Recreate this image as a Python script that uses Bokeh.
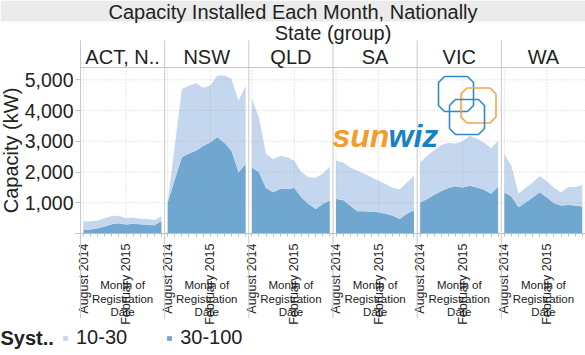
import math
from bokeh.plotting import figure
from bokeh.models import (ColumnDataSource, FixedTicker, Label, BoxAnnotation, Arrow,
                          NumeralTickFormatter, PolyAnnotation, Legend, LegendItem, Range1d)
from bokeh.embed import file_html
from bokeh.resources import INLINE

# ---------------- data ----------------
months = ["August 2014", "September 2014", "October 2014", "November 2014",
          "December 2014", "January 2015", "February 2015", "March 2015",
          "April 2015", "May 2015", "June 2015", "July 2015"]
states = ["ACT, N..", "NSW", "QLD", "SA", "VIC", "WA"]
series_labels = ["10-30", "30-100"]
tick_months = ["August 2014", "February 2015"]
y_ticks = [0, 1000, 2000, 3000, 4000, 5000]

act_30_100 = [120, 130, 170, 230, 300, 330, 290, 320, 300, 280, 270, 410]
act_10_30 = [270, 270, 250, 270, 270, 250, 210, 200, 180, 190, 170, 150]
nsw_30_100 = [1010, 1750, 2480, 2600, 2690, 2850, 2960, 3130, 2950, 2690, 1990, 2260]
nsw_10_30 = [30, 1100, 2220, 2210, 2200, 1890, 1850, 2010, 2190, 2340, 2330, 2550]
qld_30_100 = [2150, 1990, 1480, 1340, 1450, 1450, 1480, 1170, 960, 800, 960, 1070]
qld_10_30 = [2230, 1790, 1110, 1080, 1080, 1030, 890, 830, 870, 1010, 980, 1110]
sa_30_100 = [1120, 1090, 900, 720, 720, 710, 690, 640, 580, 470, 640, 750]
sa_10_30 = [1250, 1220, 1250, 1320, 1220, 1120, 1030, 970, 900, 970, 1020, 1120]
vic_30_100 = [1010, 1120, 1260, 1380, 1480, 1540, 1500, 1550, 1500, 1420, 1290, 1520]
vic_10_30 = [1300, 1410, 1460, 1500, 1470, 1390, 1500, 1630, 1590, 1540, 1490, 1500]
wa_30_100 = [1340, 1200, 850, 1010, 1170, 1340, 1170, 980, 910, 930, 910, 880]
wa_10_30 = [1250, 1000, 450, 480, 490, 530, 530, 510, 420, 580, 600, 700]

big = [act_30_100, nsw_30_100, qld_30_100, sa_30_100, vic_30_100, wa_30_100]
small = [act_10_30, nsw_10_30, qld_10_30, sa_10_30, vic_10_30, wa_10_30]

# ---------------- layout / style ----------------
W, H = 585, 355
FL, FR, FT, FB = 80, 585, 67, 233          # panel-area edges in pixels
DATA0_PX = 83                               # pixel of first month in first panel
STRIDE = 11.875                             # months per panel (incl. gap)
PANEL_PX = (FR - FL) / len(states)
PXM = PANEL_PX / STRIDE                     # pixels per month
YMAX = 5400
LIGHT = "#c5d7ee"
DARK = "#70a7d0"
DIV = "#c8c8c8"
TXT = "#222222"
FONT = "Liberation Sans"


def px2x(px):
    return (px - DATA0_PX) / PXM


def py2y(py):
    return (FB - py) * YMAX / (FB - FT)


p = figure(width=W, height=H, x_range=Range1d(px2x(0), px2x(W)),
           y_range=Range1d(py2y(H), py2y(0)), output_backend="svg", toolbar_location=None,
           min_border_left=0, min_border_right=0, min_border_top=0, min_border_bottom=0)
p.outline_line_color = None
p.background_fill_color = "white"
p.border_fill_color = "white"
p.xgrid.visible = False
p.ygrid.visible = False

major = []
overrides = {}
minor = []
for i in range(len(states)):
    for j, m in enumerate(months):
        minor.append(i * STRIDE + j)
        if m in tick_months:
            major.append(i * STRIDE + j)
            overrides[i * STRIDE + j] = m

# x axis drawn at y = 0
xt = FixedTicker(ticks=major, minor_ticks=minor)
p.xaxis.fixed_location = 0
p.xaxis.bounds = (px2x(FL - 5), px2x(FR))
p.xaxis.ticker = xt
p.xaxis.major_label_overrides = overrides
p.xaxis.major_label_orientation = math.pi / 2
p.xaxis.major_label_text_baseline = "top"
p.xaxis.major_tick_line_color = None
p.xaxis.major_tick_in = 0
p.xaxis.major_tick_out = 0
p.xaxis.minor_tick_line_color = "#bdbdbd"
p.xaxis.minor_tick_in = 0
p.xaxis.minor_tick_out = 3
p.xaxis.axis_line_color = "#bdbdbd"
p.xaxis.major_label_text_font_size = "12.5px"
p.xaxis.major_label_text_font = FONT
p.xaxis.major_label_text_color = TXT
p.xaxis.major_label_standoff = 7

# y axis drawn at the left edge of the panels
yt = FixedTicker(ticks=y_ticks)
p.yaxis.fixed_location = px2x(FL)
p.yaxis.bounds = (0, YMAX)
p.yaxis.ticker = yt
p.yaxis.formatter = NumeralTickFormatter(format="0,0")
p.yaxis.major_label_overrides = {0: ""}
p.yaxis.major_tick_line_color = DIV
p.yaxis.major_tick_in = 0
p.yaxis.major_tick_out = 5
p.yaxis.minor_tick_line_color = None
p.yaxis.axis_line_color = None
p.yaxis.major_label_text_font_size = "19.5px"
p.yaxis.major_label_text_font = FONT
p.yaxis.major_label_text_color = TXT
p.yaxis.major_label_standoff = 2
p.yaxis.axis_label = "Capacity (kW)"
p.yaxis.axis_label_text_font = FONT
p.yaxis.axis_label_text_font_size = "20px"
p.yaxis.axis_label_text_font_style = "normal"
p.yaxis.axis_label_text_color = TXT
p.yaxis.axis_label_standoff = 0

# stacked areas, one panel per state
legend_refs = None
for i, st in enumerate(states):
    src = ColumnDataSource(dict(x=[i * STRIDE + j for j in range(len(months))],
                                s30_100=big[i], s10_30=small[i]))
    rs = p.varea_stack(["s30_100", "s10_30"], x="x", color=[DARK, LIGHT], source=src)
    if legend_refs is None:
        legend_refs = rs

# dotted grid lines (on top, faint)
gy = y_ticks[1:]
p.segment(x0=[px2x(FL)] * len(gy), y0=gy, x1=[px2x(FR)] * len(gy), y1=gy,
          line_color="#9a9a9a", line_alpha=0.45, line_dash="1 2", line_width=1)
p.segment(x0=major, y0=[0] * len(major), x1=major, y1=[YMAX] * len(major),
          line_color="#9a9a9a", line_alpha=0.45, line_dash="1 2", line_width=1)

# panel dividers & header line
for k in range(len(states)):
    xd = px2x(FL + k * PANEL_PX)
    p.add_layout(Arrow(end=None, x_start=xd, y_start=py2y(40), x_end=xd, y_end=py2y(318),
                       line_color=DIV, line_width=1))
p.add_layout(Arrow(end=None, x_start=px2x(FL), y_start=YMAX, x_end=px2x(FR), y_end=YMAX,
                   line_color=DIV, line_width=1))

# title band
p.add_layout(BoxAnnotation(left=px2x(0), right=px2x(W), top=py2y(0), bottom=py2y(21),
                           fill_color="#ebebeb", fill_alpha=1, line_color=None))
p.add_layout(Label(x=px2x(W / 2), y=py2y(11), text="Capacity Installed Each Month, Nationally",
                   text_align="center", text_baseline="middle", text_font=FONT,
                   text_font_size="20px", text_color=TXT))
p.add_layout(Label(x=px2x((FL + FR) / 2), y=py2y(32), text="State (group)",
                   text_align="center", text_baseline="middle", text_font=FONT,
                   text_font_size="20px", text_color=TXT))

for k, st in enumerate(states):
    cx = px2x(FL + (k + 0.5) * PANEL_PX)
    p.add_layout(Label(x=cx, y=py2y(56), text=st, text_align="center",
                       text_baseline="middle", text_font=FONT, text_font_size="20px",
                       text_color=TXT))
    for line, py in zip(["Month of", "Registration", "Date"], [284, 298, 311]):
        p.add_layout(Label(x=cx, y=py2y(py), text=line, text_align="center",
                           text_baseline="middle", text_font=FONT, text_font_size="11.5px",
                           text_color=TXT))

# legend
p.add_layout(Label(x=px2x(0), y=py2y(337), text="Syst..", text_align="left",
                   text_baseline="middle", text_font=FONT, text_font_size="20px",
                   text_font_style="bold", text_color=TXT))
legend = Legend(items=[LegendItem(label=series_labels[0], renderers=[legend_refs[1]]),
                       LegendItem(label=series_labels[1], renderers=[legend_refs[0]])],
                orientation="horizontal", location=(62, H - 349),
                glyph_width=6, glyph_height=6, label_standoff=8, spacing=39,
                padding=0, margin=0, border_line_color=None, background_fill_alpha=0,
                label_text_font=FONT, label_text_font_size="20px", label_text_color=TXT)
p.add_layout(legend)

# sunwiz logo (decoration)
p.add_layout(Label(x=px2x(332), y=py2y(135), text="sun", text_align="left",
                   text_baseline="alphabetic", text_font=FONT, text_font_size="32px",
                   text_font_style="bold italic", text_color="#f39c2c"))
p.add_layout(Label(x=px2x(388), y=py2y(135), text="wiz", text_align="left",
                   text_baseline="alphabetic", text_font=FONT, text_font_size="32px",
                   text_font_style="bold italic", text_color="#1a80c4"))


def octagon(cx, cy, r, c):
    pts = [(cx - r + c, cy - r), (cx + r - c, cy - r), (cx + r, cy - r + c), (cx + r, cy + r - c),
           (cx + r - c, cy + r), (cx - r + c, cy + r), (cx - r, cy + r - c), (cx - r, cy - r + c)]
    return [px2x(a) for a, b in pts], [py2y(b) for a, b in pts]


for (cx, cy, col) in [(455.5, 93.5, "#2b8cc6"), (478, 105, "#f2a648"), (466.5, 116.5, "#2b8cc6")]:
    xs, ys = octagon(cx, cy, 17.5, 6)
    p.add_layout(PolyAnnotation(xs=xs, ys=ys, fill_alpha=0, line_color=col, line_alpha=1,
                                line_width=1.6))

open("out.html", "w").write(file_html(p, INLINE))
